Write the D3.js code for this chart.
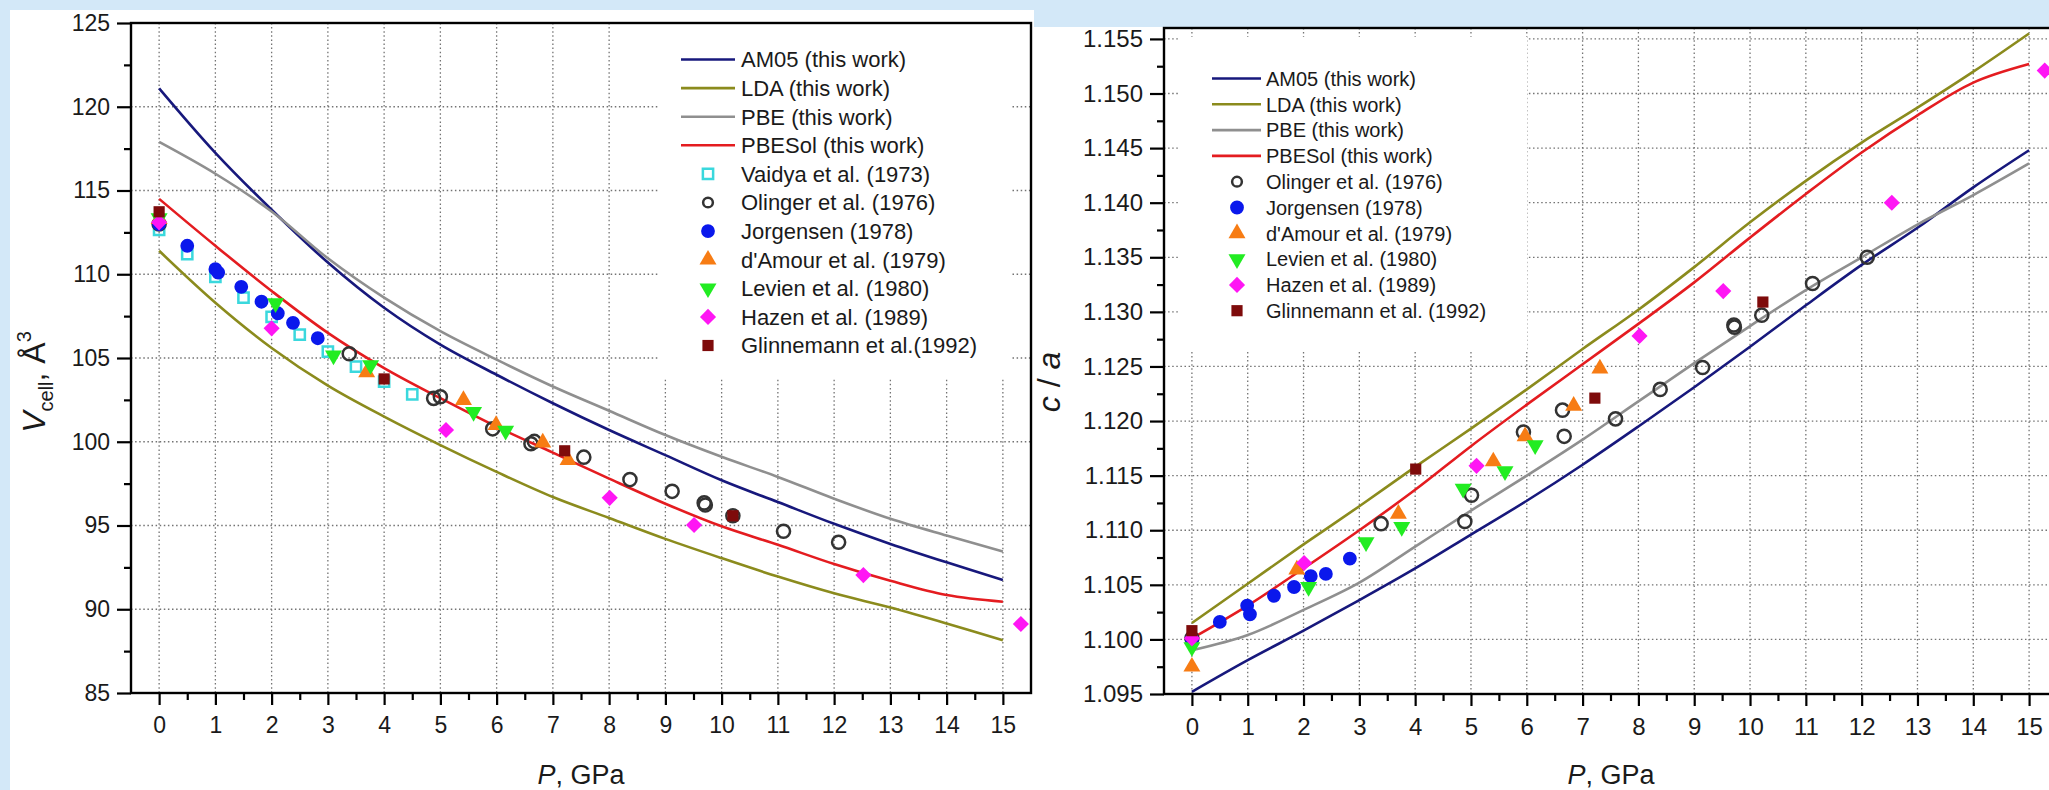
<!doctype html>
<html lang="en">
<head>
  <meta charset="utf-8">
  <title>Quartz: V(P) and c/a(P)</title>
  <style>
    * { margin: 0; padding: 0; box-sizing: border-box; }
    body { background: #d3e8f8; width: 2049px; height: 790px; overflow: hidden; }
    svg { display: block; font-family: "Liberation Sans", Arial, sans-serif; }
  </style>
</head>
<body>
  <div id="container"></div>
  <script src="https://cdn.jsdelivr.net/npm/d3@7"></script>
  <script>
    // pressure grid of the computed curves, GPa
    const pressureGrid = [0, 1, 2, 3, 4, 5, 6, 7, 8, 9, 10, 11, 12, 13, 14, 15];
    const xMajorTicks = [0, 1, 2, 3, 4, 5, 6, 7, 8, 9, 10, 11, 12, 13, 14, 15];
    const xMinorTicks = [0.5, 1.5, 2.5, 3.5, 4.5, 5.5, 6.5, 7.5, 8.5, 9.5, 10.5, 11.5, 12.5, 13.5, 14.5];

    // left panel: cell volume, A^3
    const vTicks = [85, 90, 95, 100, 105, 110, 115, 120, 125];
    const vMinorTicks = [87.5, 92.5, 97.5, 102.5, 107.5, 112.5, 117.5, 122.5];
    const vAM05   = [121.1, 117.25, 113.85, 110.7, 108.0, 105.8, 104.0, 102.3, 100.7, 99.2, 97.7, 96.4, 95.1, 93.9, 92.8, 91.75];
    const vLDA    = [111.4, 108.3, 105.6, 103.35, 101.5, 99.8, 98.2, 96.7, 95.45, 94.2, 93.05, 91.95, 90.95, 90.1, 89.15, 88.15];
    const vPBE    = [117.9, 116.0, 113.75, 110.95, 108.6, 106.6, 104.9, 103.3, 101.85, 100.4, 99.1, 97.9, 96.6, 95.4, 94.4, 93.45];
    const vPBESol = [114.5, 111.7, 109.0, 106.5, 104.4, 102.6, 100.9, 99.35, 97.8, 96.3, 94.95, 93.85, 92.7, 91.7, 90.85, 90.45];

    const vVaidya = [[0, 112.65], [0.5, 111.2], [1.0, 109.85], [1.5, 108.6], [2.0, 107.45], [2.5, 106.4], [3.0, 105.38], [3.5, 104.48], [4.0, 103.59], [4.5, 102.83]];
    const vOlinger = [[0, 113.0], [3.38, 105.25], [4.88, 102.59], [5.0, 102.69], [5.93, 100.77], [6.61, 99.88], [6.67, 100.02], [7.55, 99.08], [8.37, 97.74], [9.12, 97.04], [9.69, 96.35], [9.71, 96.22], [10.2, 95.58], [11.1, 94.66], [12.08, 94.0]];
    const vJorgensen = [[0, 113.0], [0.5, 111.7], [1.0, 110.3], [1.05, 110.1], [1.46, 109.25], [1.82, 108.36], [2.11, 107.67], [2.38, 107.1], [2.82, 106.18]];
    const vDAmour = [[0, 113.3], [3.69, 104.15], [5.41, 102.49], [5.99, 101.0], [6.82, 99.95], [7.27, 98.91]];
    const vLevien = [[0, 113.35], [2.07, 108.27], [3.1, 105.16], [3.76, 104.58], [5.59, 101.78], [6.16, 100.66]];
    const vHazen = [[0, 113.1], [2.0, 106.77], [5.1, 100.7], [8.01, 96.65], [9.51, 95.03], [12.52, 92.04], [15.32, 89.12]];
    const vGlinnemann = [[0, 113.73], [4.0, 103.75], [7.21, 99.46], [10.2, 95.58]];

    // right panel: axial ratio c/a
    const caTicks = [1.095, 1.100, 1.105, 1.110, 1.115, 1.120, 1.125, 1.130, 1.135, 1.140, 1.145, 1.150, 1.155];
    const caMinorTicks = [1.0975, 1.1025, 1.1075, 1.1125, 1.1175, 1.1225, 1.1275, 1.1325, 1.1375, 1.1425, 1.1475, 1.1525];
    const caAM05   = [1.0952, 1.0981, 1.1008, 1.1036, 1.1065, 1.1096, 1.1127, 1.1160, 1.1195, 1.1231, 1.1268, 1.1306, 1.1343, 1.1377, 1.1414, 1.1448];
    const caLDA    = [1.1015, 1.1051, 1.1087, 1.1122, 1.1158, 1.1193, 1.1229, 1.1266, 1.1302, 1.1341, 1.1382, 1.1420, 1.1455, 1.1487, 1.1520, 1.1555];
    const caPBE    = [1.0990, 1.1004, 1.1027, 1.1052, 1.1085, 1.1118, 1.1150, 1.1183, 1.1218, 1.1253, 1.1287, 1.1320, 1.1350, 1.1380, 1.1407, 1.1436];
    const caPBESol = [1.1001, 1.1031, 1.1065, 1.1100, 1.1137, 1.1177, 1.1215, 1.1252, 1.1289, 1.1327, 1.1368, 1.1408, 1.1446, 1.1480, 1.1510, 1.1527];

    const caOlinger = [[0, 1.1001], [3.39, 1.1106], [4.89, 1.1108], [5.01, 1.1132], [5.94, 1.1190], [6.64, 1.1210], [6.67, 1.1186], [7.59, 1.1202], [8.39, 1.1229], [9.15, 1.1249], [9.71, 1.1288], [9.72, 1.1286], [10.21, 1.1297], [11.12, 1.1326], [12.1, 1.1350]];
    const caJorgensen = [[0, 1.1000], [0.5, 1.1016], [0.99, 1.1031], [1.04, 1.1023], [1.47, 1.1040], [1.83, 1.1048], [2.13, 1.1058], [2.40, 1.1060], [2.83, 1.1074]];
    const caDAmour = [[0, 1.0975], [1.88, 1.1064], [3.70, 1.1115], [5.40, 1.1163], [5.97, 1.1186], [6.84, 1.1214], [7.31, 1.1248]];
    const caLevien = [[0, 1.0993], [2.09, 1.1048], [3.12, 1.1089], [3.76, 1.1103], [4.86, 1.1138], [5.61, 1.1154], [6.15, 1.1178]];
    const caHazen = [[0, 1.1001], [2.01, 1.1070], [5.10, 1.1159], [8.02, 1.1278], [9.52, 1.1319], [12.54, 1.1400], [15.28, 1.1521]];
    const caGlinnemann = [[0, 1.1008], [4.01, 1.1156], [7.22, 1.1221], [10.23, 1.1309]];

    // styles
    const curveStyle = {
      AM05:   {label: 'AM05 (this work)',   color: '#17187c'},
      LDA:    {label: 'LDA (this work)',    color: '#8b8b1d'},
      PBE:    {label: 'PBE (this work)',    color: '#8f8f8f'},
      PBESol: {label: 'PBESol (this work)', color: '#e41c20'}
    };
    const pointStyle = {
      vaidya:     {shape: 'square',  fill: 'none',    stroke: '#3ad8dd', size: 105},
      olinger:    {shape: 'circle',  fill: 'none',    stroke: '#333333', size: 135},
      jorgensen:  {shape: 'circle',  fill: '#0a18ec', stroke: 'none',    size: 150},
      damour:     {shape: 'up',      fill: '#f77c14', stroke: 'none',    size: 125},
      levien:     {shape: 'down',    fill: '#22ec22', stroke: 'none',    size: 125},
      hazen:      {shape: 'diamond', fill: '#ff16f4', stroke: 'none',    size: 130},
      glinnemann: {shape: 'square',  fill: '#7e0b0b', stroke: 'none',    size: 125}
    };

    const svg = d3.select('#container').append('svg')
      .attr('width', 2049)
      .attr('height', 790);

    // white figure panels on the light blue slide
    svg.append('rect').attr('x', 10).attr('y', 10).attr('width', 1024).attr('height', 780).attr('fill', '#fff');
    svg.append('rect').attr('x', 1034).attr('y', 27).attr('width', 1015).attr('height', 763).attr('fill', '#fff');

    function symbolPath(st, scale) {
      const type = st.shape === 'circle' ? d3.symbolCircle
        : (st.shape === 'up' || st.shape === 'down') ? d3.symbolTriangle : d3.symbolSquare;
      return d3.symbol().type(type).size(st.size * (scale || 1))();
    }
    function symbolRot(st) {
      return st.shape === 'down' ? 180 : st.shape === 'diamond' ? 45 : 0;
    }
    function drawMarker(g, st, px, py, scale) {
      g.append('path')
        .attr('d', symbolPath(st, scale))
        .attr('transform', `translate(${px},${py}) rotate(${symbolRot(st)})`)
        .attr('fill', st.fill)
        .attr('stroke', st.stroke)
        .attr('stroke-width', st.fill === 'none' ? 2.5 : 0);
    }

    function drawChart(c) {
      const x = d3.scaleLinear().domain([-0.5, 15.5]).range([c.left, c.right]);
      const y = d3.scaleLinear().domain(c.yDomain).range([c.bottom, c.top]);
      const g = svg.append('g');

      // dotted grid
      const grid = g.append('g')
        .attr('stroke', '#737373')
        .attr('stroke-width', 1.3)
        .attr('stroke-dasharray', '1.5,2.6');
      grid.selectAll('line.vg').data(xMajorTicks).join('line').attr('class', 'vg')
        .attr('x1', d => x(d)).attr('x2', d => x(d))
        .attr('y1', c.top).attr('y2', c.bottom);
      grid.selectAll('line.hg').data(c.yTicks).join('line').attr('class', 'hg')
        .attr('x1', c.left).attr('x2', c.right)
        .attr('y1', d => y(d)).attr('y2', d => y(d));

      // legend background hides the grid
      g.append('rect')
        .attr('x', c.legend.box[0]).attr('y', c.legend.box[1])
        .attr('width', c.legend.box[2] - c.legend.box[0])
        .attr('height', c.legend.box[3] - c.legend.box[1])
        .attr('fill', '#fff');

      // computed curves
      const line = d3.line()
        .x(d => x(d[0]))
        .y(d => y(d[1]))
        .curve(d3.curveCatmullRom.alpha(0.5));
      c.curves.forEach(cv => {
        g.append('path')
          .datum(pressureGrid.map((p, i) => [p, cv.values[i]]))
          .attr('d', line)
          .attr('fill', 'none')
          .attr('stroke', curveStyle[cv.key].color)
          .attr('stroke-width', 2.6);
      });

      // experimental points
      c.points.forEach(ps => {
        const st = pointStyle[ps.key];
        ps.data.forEach(d => drawMarker(g, st, x(d[0]), y(d[1])));
      });

      // frame
      g.append('rect')
        .attr('x', c.left).attr('y', c.top)
        .attr('width', c.right - c.left).attr('height', c.bottom - c.top)
        .attr('fill', 'none').attr('stroke', '#000').attr('stroke-width', 2.4);

      // axes
      const styleAxis = sel => {
        sel.select('.domain').remove();
        sel.selectAll('line').attr('stroke', '#000').attr('stroke-width', 2.2);
        sel.selectAll('text').attr('fill', '#1a1a1a').attr('font-size', c.tickFont)
          .attr('font-family', '"Liberation Sans", Arial, sans-serif');
      };
      g.append('g').attr('transform', `translate(0,${c.bottom})`)
        .call(d3.axisBottom(x).tickValues(xMajorTicks).tickSize(12).tickPadding(12).tickFormat(d3.format('d')))
        .call(styleAxis);
      g.append('g').attr('transform', `translate(0,${c.bottom})`)
        .call(d3.axisBottom(x).tickValues(xMinorTicks).tickSize(7).tickFormat(''))
        .call(styleAxis);
      g.append('g').attr('transform', `translate(${c.left},0)`)
        .call(d3.axisLeft(y).tickValues(c.yTicks).tickSize(14).tickPadding(7).tickFormat(c.yFormat))
        .call(styleAxis);
      g.append('g').attr('transform', `translate(${c.left},0)`)
        .call(d3.axisLeft(y).tickValues(c.yMinor).tickSize(7).tickFormat(''))
        .call(styleAxis);

      // x title
      const xt = g.append('text')
        .attr('x', c.titleX)
        .attr('y', 784)
        .attr('text-anchor', 'middle')
        .attr('font-size', 27)
        .attr('fill', '#1a1a1a');
      xt.append('tspan').attr('font-style', 'italic').text('P');
      xt.append('tspan').text(', GPa');

      // legend
      const lg = c.legend;
      const lgG = g.append('g').attr('font-size', lg.font).attr('fill', '#1a1a1a');
      lg.items.forEach((it, i) => {
        const ry = lg.y0 + i * lg.step;
        if (it.curve) {
          lgG.append('line')
            .attr('x1', lg.lineX[0]).attr('x2', lg.lineX[1])
            .attr('y1', ry).attr('y2', ry)
            .attr('stroke', curveStyle[it.curve].color).attr('stroke-width', 2.6);
        } else {
          const st = pointStyle[it.point];
          drawMarker(lgG, st, lg.markX, ry, it.point === 'olinger' ? 0.55 : 1);
        }
        lgG.append('text')
          .attr('x', lg.textX).attr('y', ry + lg.font * 0.36)
          .text(it.label);
      });
    }

    // left: V_cell
    drawChart({
      left: 131, right: 1031, top: 23, bottom: 693,
      yDomain: [85, 125], yTicks: vTicks, yMinor: vMinorTicks,
      yFormat: d3.format('d'), tickFont: 23, titleX: 581,
      curves: [
        {key: 'AM05', values: vAM05}, {key: 'LDA', values: vLDA},
        {key: 'PBE', values: vPBE}, {key: 'PBESol', values: vPBESol}
      ],
      points: [
        {key: 'vaidya', data: vVaidya}, {key: 'olinger', data: vOlinger},
        {key: 'jorgensen', data: vJorgensen}, {key: 'damour', data: vDAmour},
        {key: 'levien', data: vLevien}, {key: 'hazen', data: vHazen},
        {key: 'glinnemann', data: vGlinnemann}
      ],
      legend: {
        box: [658, 24, 1011, 378], y0: 59.5, step: 28.6, font: 22,
        lineX: [681, 735], markX: 708, textX: 741,
        items: [
          {curve: 'AM05', label: 'AM05 (this work)'},
          {curve: 'LDA', label: 'LDA (this work)'},
          {curve: 'PBE', label: 'PBE (this work)'},
          {curve: 'PBESol', label: 'PBESol (this work)'},
          {point: 'vaidya', label: 'Vaidya et al. (1973)'},
          {point: 'olinger', label: 'Olinger et al. (1976)'},
          {point: 'jorgensen', label: 'Jorgensen (1978)'},
          {point: 'damour', label: "d'Amour et al. (1979)"},
          {point: 'levien', label: 'Levien et al. (1980)'},
          {point: 'hazen', label: 'Hazen et al. (1989)'},
          {point: 'glinnemann', label: 'Glinnemann et al.(1992)'}
        ]
      }
    });

    // right: c/a
    drawChart({
      left: 1164, right: 2057, top: 28, bottom: 694,
      yDomain: [1.095, 1.156], yTicks: caTicks, yMinor: caMinorTicks,
      yFormat: d3.format('.3f'), tickFont: 24, titleX: 1611,
      curves: [
        {key: 'AM05', values: caAM05}, {key: 'LDA', values: caLDA},
        {key: 'PBE', values: caPBE}, {key: 'PBESol', values: caPBESol}
      ],
      points: [
        {key: 'olinger', data: caOlinger}, {key: 'jorgensen', data: caJorgensen},
        {key: 'damour', data: caDAmour}, {key: 'levien', data: caLevien},
        {key: 'hazen', data: caHazen}, {key: 'glinnemann', data: caGlinnemann}
      ],
      legend: {
        box: [1180, 37, 1527, 350], y0: 78.5, step: 25.8, font: 20,
        lineX: [1212, 1261], markX: 1237, textX: 1266,
        items: [
          {curve: 'AM05', label: 'AM05 (this work)'},
          {curve: 'LDA', label: 'LDA (this work)'},
          {curve: 'PBE', label: 'PBE (this work)'},
          {curve: 'PBESol', label: 'PBESol (this work)'},
          {point: 'olinger', label: 'Olinger et al. (1976)'},
          {point: 'jorgensen', label: 'Jorgensen (1978)'},
          {point: 'damour', label: "d'Amour et al. (1979)"},
          {point: 'levien', label: 'Levien et al. (1980)'},
          {point: 'hazen', label: 'Hazen et al. (1989)'},
          {point: 'glinnemann', label: 'Glinnemann et al. (1992)'}
        ]
      }
    });

    // y titles
    const yl = svg.append('text')
      .attr('transform', 'translate(45,382) rotate(-90)')
      .attr('text-anchor', 'middle')
      .attr('font-size', 32)
      .attr('fill', '#1a1a1a');
    yl.append('tspan').attr('font-style', 'italic').text('V');
    yl.append('tspan').attr('font-size', 20).attr('dy', 8).text('cell');
    yl.append('tspan').attr('dy', -8).text(', Å');
    yl.append('tspan').attr('font-size', 20).attr('dy', -14).text('3');

    const yr = svg.append('text')
      .attr('transform', 'translate(1060,382) rotate(-90)')
      .attr('text-anchor', 'middle')
      .attr('font-size', 32)
      .attr('fill', '#1a1a1a');
    yr.append('tspan').attr('font-style', 'italic').text('c');
    yr.append('tspan').text(' / ');
    yr.append('tspan').attr('font-style', 'italic').text('a');
  </script>
</body>
</html>
